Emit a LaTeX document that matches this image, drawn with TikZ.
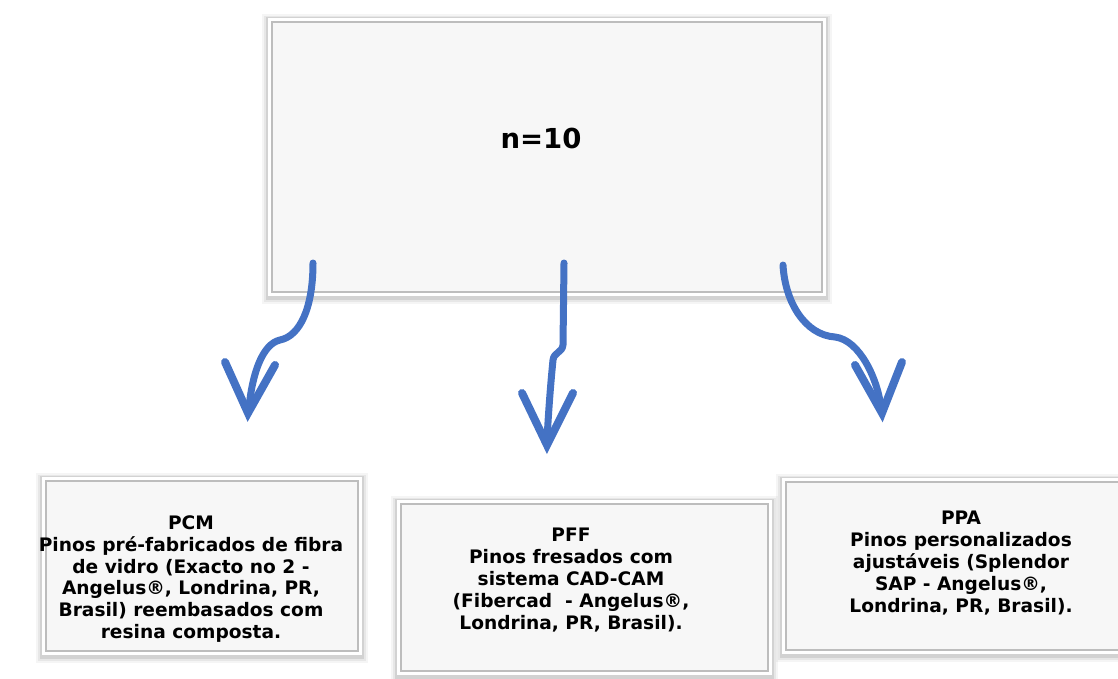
\documentclass[tikz,border=0pt]{standalone}
\usepackage{fontspec}
\setmainfont{DejaVu Sans}
\definecolor{arrowblue}{HTML}{4472C4}
\definecolor{boxfill}{HTML}{F7F7F7}
\definecolor{boxline}{HTML}{BDBDBD}
\tikzset{
  framebox/.style={rectangle, inner sep=0pt, fill=boxfill, draw=boxline, line width=1.4pt,
    preaction={draw=black, draw opacity=0.04, line width=20pt, transform canvas={yshift=-2pt}},
    preaction={draw=black, draw opacity=0.06, line width=16pt, transform canvas={yshift=-2pt}},
    preaction={draw=black, draw opacity=0.09, line width=12.5pt, transform canvas={yshift=-1.5pt}},
    preaction={draw=white, line width=8pt}},
  bodytext/.style={align=center, inner sep=0pt, font=\bfseries\fontsize{18.6}{21.8}\selectfont},
  curvearrow/.style={draw=arrowblue, line width=7pt, line cap=round, line join=round},
  vhead/.style={draw=arrowblue, line width=8pt, line cap=round, line join=miter}
}
\begin{document}
\begin{tikzpicture}[x=1pt,y=-1pt]
\useasboundingbox (0,0) rectangle (1118,678);
% top box
\node[framebox, minimum width=550pt, minimum height=270pt] (top) at (547,157) {};
\node[inner sep=0pt, font=\bfseries\fontsize{27.5}{32}\selectfont] (n10) at (541,138) {n=10};
% bottom boxes
\node[framebox, minimum width=312pt, minimum height=170pt] (b1) at (202,566) {};
\node[bodytext] (t1) at (191,579) {PCM\\Pinos pré-fabricados de fibra\\de vidro (Exacto no 2 -\\Angelus®, Londrina, PR,\\Brasil) reembasados com\\resina composta.};
\node[framebox, minimum width=367pt, minimum height=167pt] (b2) at (584.5,587.5) {};
\node[bodytext] (t2) at (571,580) {PFF\\Pinos fresados com\\sistema CAD-CAM\\(Fibercad\ \ - Angelus®,\\Londrina, PR, Brasil).};
\node[framebox, minimum width=340pt, minimum height=168pt] (b3) at (956,566) {};
\node[bodytext] (t3) at (961,563) {PPA\\Pinos personalizados\\ajustáveis (Splendor\\SAP - Angelus®,\\Londrina, PR, Brasil).};
% arrow anchors
\coordinate (s1) at (313,263);
\coordinate (k1) at (280,340);
\coordinate (e1) at (249,408);
\coordinate (s2) at (564,263);
\coordinate (k2) at (553,360);
\coordinate (e2) at (547,440);
\coordinate (s3) at (783,265);
\coordinate (k3) at (835,337);
\coordinate (e3) at (881,408);
% arrow 1
\draw[curvearrow] (s1) .. controls (313,308) and (300,336) .. (k1)
  .. controls (262,344) and (252,375) .. (e1);
\draw[vhead] (225,362) -- (248,413) -- (275,365);
% arrow 2
\draw[curvearrow] (s2) -- (563,345) .. controls (562,353) and (554,352) .. (k2)
  .. controls (550,390) and (548,420) .. (e2);
\draw[vhead] (522,393) -- (547,445) -- (573,393);
% arrow 3
\draw[curvearrow] (s3) .. controls (785,302) and (805,335) .. (k3)
  .. controls (860,340) and (878,380) .. (e3);
\draw[vhead] (855,365) -- (882,413) -- (902,362);
\end{tikzpicture}
\end{document}
